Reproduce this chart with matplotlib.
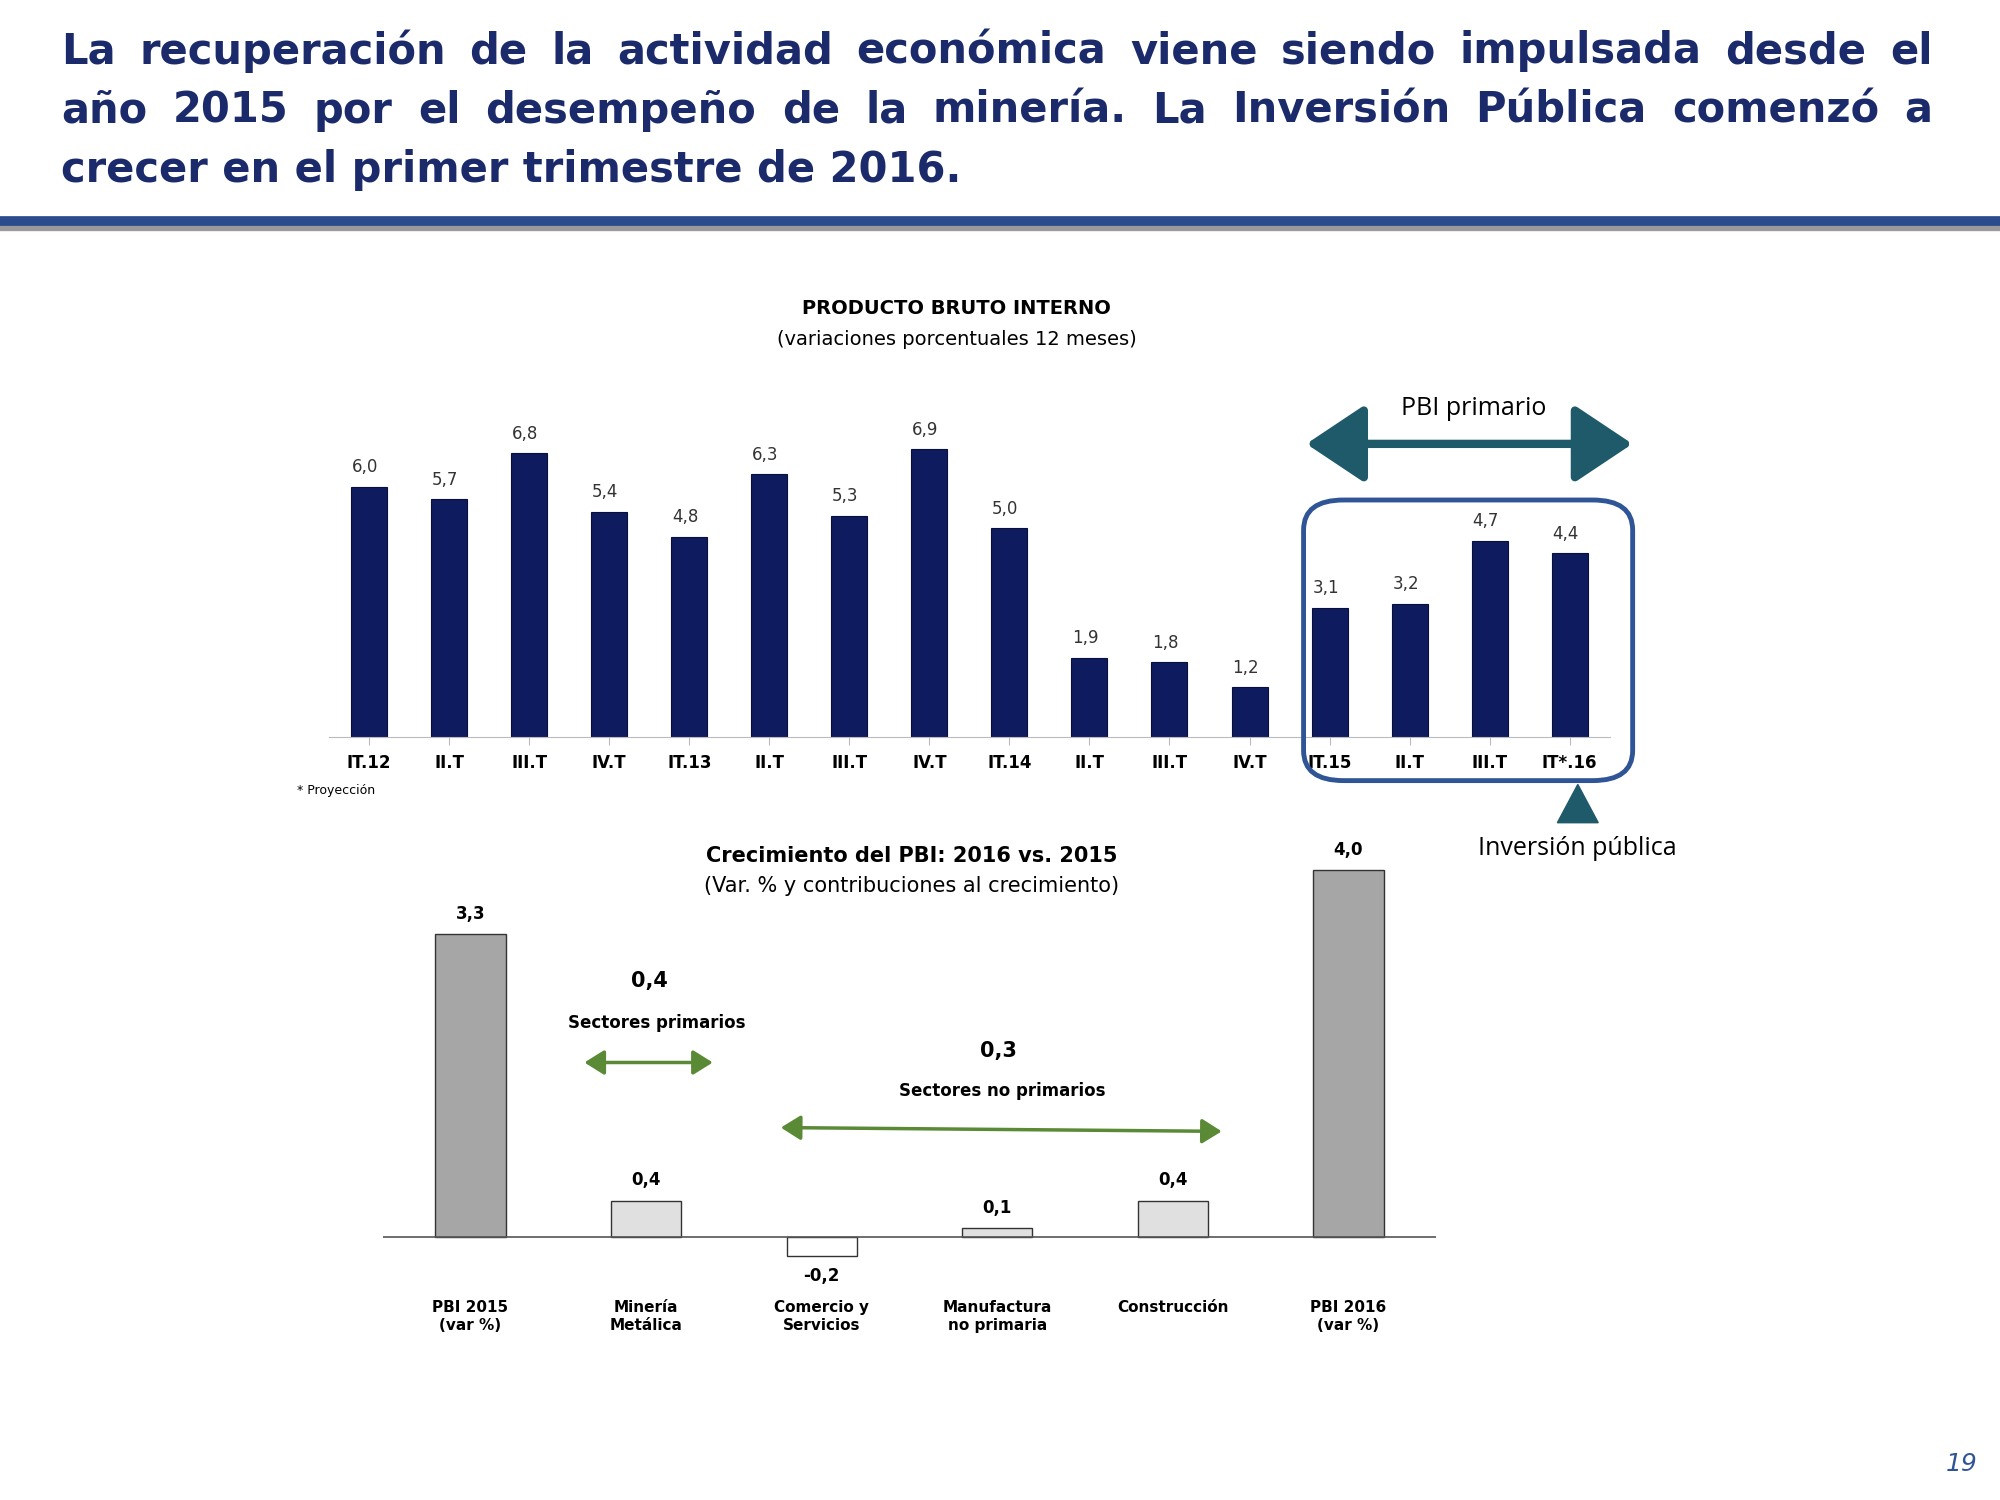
import matplotlib
matplotlib.use("Agg")
import matplotlib.pyplot as plt
from matplotlib.patches import FancyBboxPatch, Polygon
from matplotlib.lines import Line2D

W, H = 1568.0, 1176.0
def F(x, y):
    return (x / W, 1 - y / H)

quarters = ["IT.12", "II.T", "III.T", "IV.T", "IT.13", "II.T", "III.T", "IV.T",
            "IT.14", "II.T", "III.T", "IV.T", "IT.15", "II.T", "III.T", "IV.T", "IT*.16"]
quarters = quarters[:16]
quarters[-1] = "IT*.16"
pbi = [6.0, 5.7, 6.8, 5.4, 4.8, 6.3, 5.3, 6.9, 5.0, 1.9, 1.8, 1.2, 1.8, 3.1, 3.2, 4.7, 4.4]
pbi = pbi[:16]
pbi[-1] = 4.4
pbi[-4:] = [3.1, 3.2, 4.7, 4.4]

sectors = ["PBI 2015\n(var %)", "Minería\nMetálica", "Comercio y\nServicios",
           "Manufactura\nno primaria", "Construcción", "PBI 2016\n(var %)"]
contrib = [3.3, 0.4, -0.2, 0.1, 0.4, 4.0]

title_lines = ["La recuperación de la actividad económica viene siendo impulsada desde el",
               "año 2015 por el desempeño de la minería. La Inversión Pública comenzó a",
               "crecer en el primer trimestre de 2016."]

fig = plt.figure(figsize=(20, 15), dpi=100)
navy = "#1B2A6B"

# Title, justified
renderer = fig.canvas.get_renderer()
x0, x1 = F(48, 0)[0], F(1515, 0)[0]
for i, (line, yy) in enumerate(zip(title_lines, [40, 87, 133])):
    y = F(0, yy)[1]
    words = line.split(" ")
    if i == len(title_lines) - 1:
        fig.text(x0, y, line, fontsize=30, fontweight="bold", color=navy, va="center", ha="left")
        continue
    texts = [fig.text(0, y, w, fontsize=30, fontweight="bold", color=navy, va="center", ha="left") for w in words]
    widths = [t.get_window_extent(renderer).width / fig.bbox.width for t in texts]
    gap = (x1 - x0 - sum(widths)) / (len(words) - 1)
    x = x0
    for t, w in zip(texts, widths):
        t.set_x(x)
        x += w + gap

# header rule
fig.add_artist(Line2D([0, 1], [F(0, 178)[1]] * 2, color="#9A9A9A", lw=6, transform=fig.transFigure))
fig.add_artist(Line2D([0, 1], [F(0, 173)[1]] * 2, color="#2B4C8C", lw=7, transform=fig.transFigure))

# Top chart
l, b = F(258, 578)
r, t = F(1262, 316)
ax = fig.add_axes([l, b, r - l, t - b])
xs = range(len(pbi))
ax.bar(xs, pbi, width=0.45, color="#0E1B5E", edgecolor="#08103A", lw=0.8)
for x, v in zip(xs, pbi):
    ax.text(x - 0.05, v + 0.25, f"{v:.1f}".replace(".", ","), ha="center", va="bottom", fontsize=12, color="#333333")
ax.set_xlim(-0.5, len(pbi) - 0.5)
ax.set_ylim(0, 8)
ax.set_xticks(list(xs))
ax.set_xticklabels(quarters, fontsize=12, fontweight="bold")
ax.tick_params(axis="x", length=6, direction="out", color="#BBBBBB", pad=6)
ax.set_yticks([])
for s in ["top", "left", "right"]:
    ax.spines[s].set_visible(False)
ax.spines["bottom"].set_color("#BBBBBB")
ax.patch.set_alpha(0)

fig.text(*F(750, 242), "PRODUCTO BRUTO INTERNO", ha="center", va="center", fontsize=14, fontweight="bold")
fig.text(*F(750, 266), "(variaciones porcentuales 12 meses)", ha="center", va="center", fontsize=14)
fig.text(*F(233, 620), "* Proyección", ha="left", va="center", fontsize=9)

teal = "#1E5A6A"
fig.add_artist(matplotlib.patches.FancyArrowPatch(F(1022, 348), F(1282, 348), transform=fig.transFigure,
               arrowstyle="<|-|>,head_length=1.8,head_width=1.2", lw=6, color=teal, mutation_scale=20))
fig.text(*F(1155, 320), "PBI primario", ha="center", va="center", fontsize=18, family="Open Sans")
bx0, by0 = F(1022, 612)
bx1, by1 = F(1280, 392)
fig.add_artist(FancyBboxPatch((bx0, by0), bx1 - bx0, by1 - by0, boxstyle="round,pad=0,rounding_size=0.02",
               transform=fig.transFigure, fill=False, ec="#2F5597", lw=3.5))
fig.add_artist(Polygon([F(1237, 615), F(1221, 645), F(1253, 645)], closed=True, transform=fig.transFigure,
               color=teal))
fig.text(*F(1237, 665), "Inversión pública", ha="center", va="center", fontsize=18, family="Open Sans")

# Bottom chart
l, b = F(300, 1006)
r, t = F(1126, 646)
ax2 = fig.add_axes([l, b, r - l, t - b])
xs2 = range(len(contrib))
cols = ["#A6A6A6", "#E0E0E0", "#FFFFFF", "#E0E0E0", "#E0E0E0", "#A6A6A6"]
ax2.bar(xs2, contrib, width=0.4, color=cols, edgecolor="#333333", lw=1)
for x, v in zip(xs2, contrib):
    y = v + 0.12 if v >= 0 else v - 0.12
    ax2.text(x, y, f"{v:.1f}".replace(".", ","), ha="center", va="bottom" if v >= 0 else "top",
             fontsize=12, fontweight="bold")
ax2.set_xlim(-0.5, len(contrib) - 0.5)
ax2.set_ylim(-0.5, 4.5)
ax2.axhline(0, color="#555555", lw=1.2)
ax2.axis("off")
for x, lab in zip(xs2, sectors):
    ax2.text(x, -0.68, lab, ha="center", va="top", fontsize=11, fontweight="bold", linespacing=1.3)

fig.text(*F(715, 671), "Crecimiento del PBI: 2016 vs. 2015", ha="center", va="center", fontsize=15, fontweight="bold")
fig.text(*F(715, 695), "(Var. % y contribuciones al crecimiento)", ha="center", va="center", fontsize=15)
green = "#5A8A35"
fig.text(*F(509, 769), "0,4", ha="center", va="center", fontsize=15, fontweight="bold")
fig.text(*F(515, 802), "Sectores primarios", ha="center", va="center", fontsize=12, fontweight="bold")
fig.add_artist(matplotlib.patches.FancyArrowPatch(F(456, 833), F(561, 833), transform=fig.transFigure,
               arrowstyle="<|-|>,head_length=0.8,head_width=0.5", lw=2.5, color=green, mutation_scale=15))
fig.text(*F(783, 824), "0,3", ha="center", va="center", fontsize=15, fontweight="bold")
fig.text(*F(786, 855), "Sectores no primarios", ha="center", va="center", fontsize=12, fontweight="bold")
fig.add_artist(matplotlib.patches.FancyArrowPatch(F(610, 884), F(960, 887), transform=fig.transFigure,
               arrowstyle="<|-|>,head_length=0.8,head_width=0.5", lw=2.5, color=green, mutation_scale=15))

fig.text(*F(1538, 1148), "19", ha="center", va="center", fontsize=18, style="italic", color="#2F5597")

fig.savefig("out.png", dpi=100, facecolor="white")
